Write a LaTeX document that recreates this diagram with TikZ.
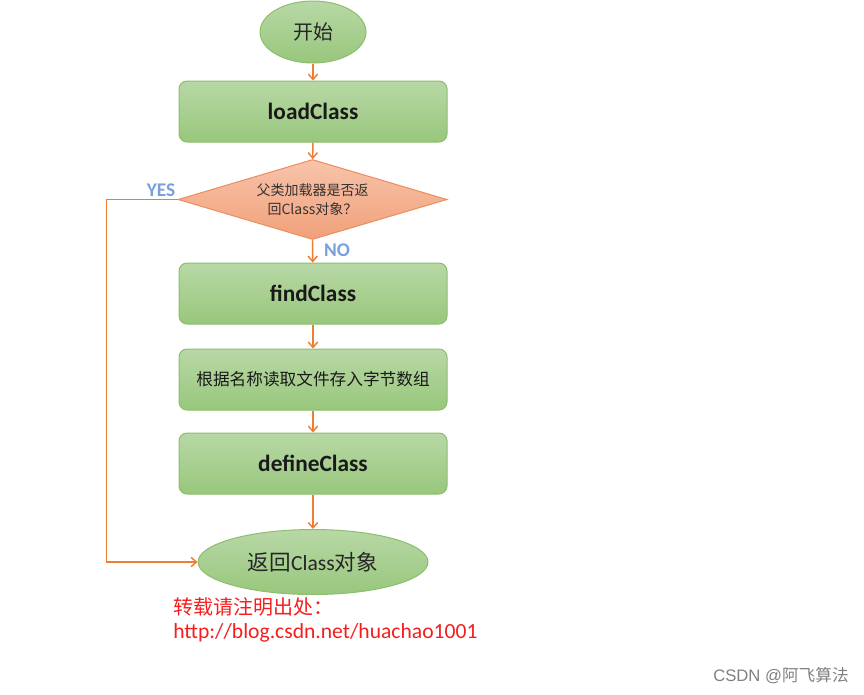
\documentclass[tikz,border=0pt]{standalone}
\usepackage{fontspec}
\setmainfont{Carlito}
\newfontfamily\cjk{Noto Sans CJK SC}
\newfontfamily\arialfont{Liberation Sans}
\usetikzlibrary{arrows.meta,shapes.geometric}
\definecolor{boxtop}{RGB}{184,216,166}
\definecolor{boxbot}{RGB}{152,199,124}
\definecolor{boxline}{RGB}{140,190,110}
\definecolor{dectop}{RGB}{247,196,170}
\definecolor{decbot}{RGB}{241,160,122}
\definecolor{decline}{RGB}{237,140,95}
\definecolor{arrorange}{RGB}{237,125,49}
\definecolor{yesblue}{RGB}{120,160,220}
\definecolor{notered}{RGB}{245,30,30}
\tikzset{
  procbox/.style={draw=boxline, line width=0.75pt, rounded corners=6pt, top color=boxtop, bottom color=boxbot,
    minimum width=201pt, minimum height=45.75pt, inner sep=2pt, align=center, text=black!90},
  codebox/.style={procbox, font=\bfseries\fontsize{17.5}{20}\selectfont},
  termnode/.style={ellipse, draw=boxline, line width=0.75pt, top color=boxtop, bottom color=boxbot,
    inner sep=0pt, text=black!85, font=\fontsize{15}{18}\selectfont},
  decision/.style={diamond, aspect=3.36, draw=decline, line width=0.75pt, top color=dectop, bottom color=decbot,
    minimum width=201.75pt, minimum height=60pt, inner sep=0pt, align=center, text=black!80,
    font=\cjk\fontsize{10.5}{14.5}\selectfont},
  arr/.style={-{Straight Barb[length=4pt,width=7pt]}, draw=arrorange, line width=1.1pt},
  yesno/.style={text=yesblue, font=\bfseries\fontsize{14.5}{16}\selectfont, inner sep=0pt},
  note/.style={anchor=west, inner sep=0pt, text=notered, font=\fontsize{15}{18}\selectfont}
}
\begin{document}
\begin{tikzpicture}[x=0.75pt, y=-0.75pt]
  \useasboundingbox (0,0) rectangle (864,694);
  \node[termnode, minimum width=79.5pt, minimum height=46.5pt] (start) at (313,32) {\cjk 开始};
  \node[codebox] (load) at (313,111.5) {loadClass};
  \node[decision] (parent) at (312.5,199.5) {父类加载器是否返\\回Class对象？};
  \node[codebox] (find) at (313,293.5) {findClass};
  \node[procbox, font=\cjk\fontsize{12.5}{15}\selectfont] (read) at (313,379.5) {根据名称读取文件存入字节数组};
  \node[codebox] (define) at (313,463.5) {defineClass};
  \node[termnode, minimum width=172.5pt, minimum height=48.75pt, font=\fontsize{16.2}{19}\selectfont] (ret) at (313,562) {{\cjk 返回}Class{\cjk 对象}};

  \draw[arr] (start) -- (load);
  \draw[arr] (load) -- (parent);
  \draw[arr] (parent.south) -- (find);
  \draw[arr] (find) -- (read);
  \draw[arr] (read) -- (define);
  \draw[arr] (define) -- (ret);
  \draw[arr] (parent.west) -- ++(-71,0) |- (ret.west);

  \node[yesno] (yes) at (161,190) {YES};
  \node[yesno] (no) at (337,250) {NO};

  \node[note] (notice) at (173,607) {\cjk 转载请注明出处：};
  \node[note, font=\fontsize{16.2}{19}\selectfont] (url) at (173,633) {http://blog.csdn.net/huachao1001};
  \node[anchor=east, inner sep=0pt, text=black!50, font=\arialfont\fontsize{12.5}{15}\selectfont] (mark) at (849,676) {CSDN @{\cjk 阿飞算法}};
\end{tikzpicture}
\end{document}
